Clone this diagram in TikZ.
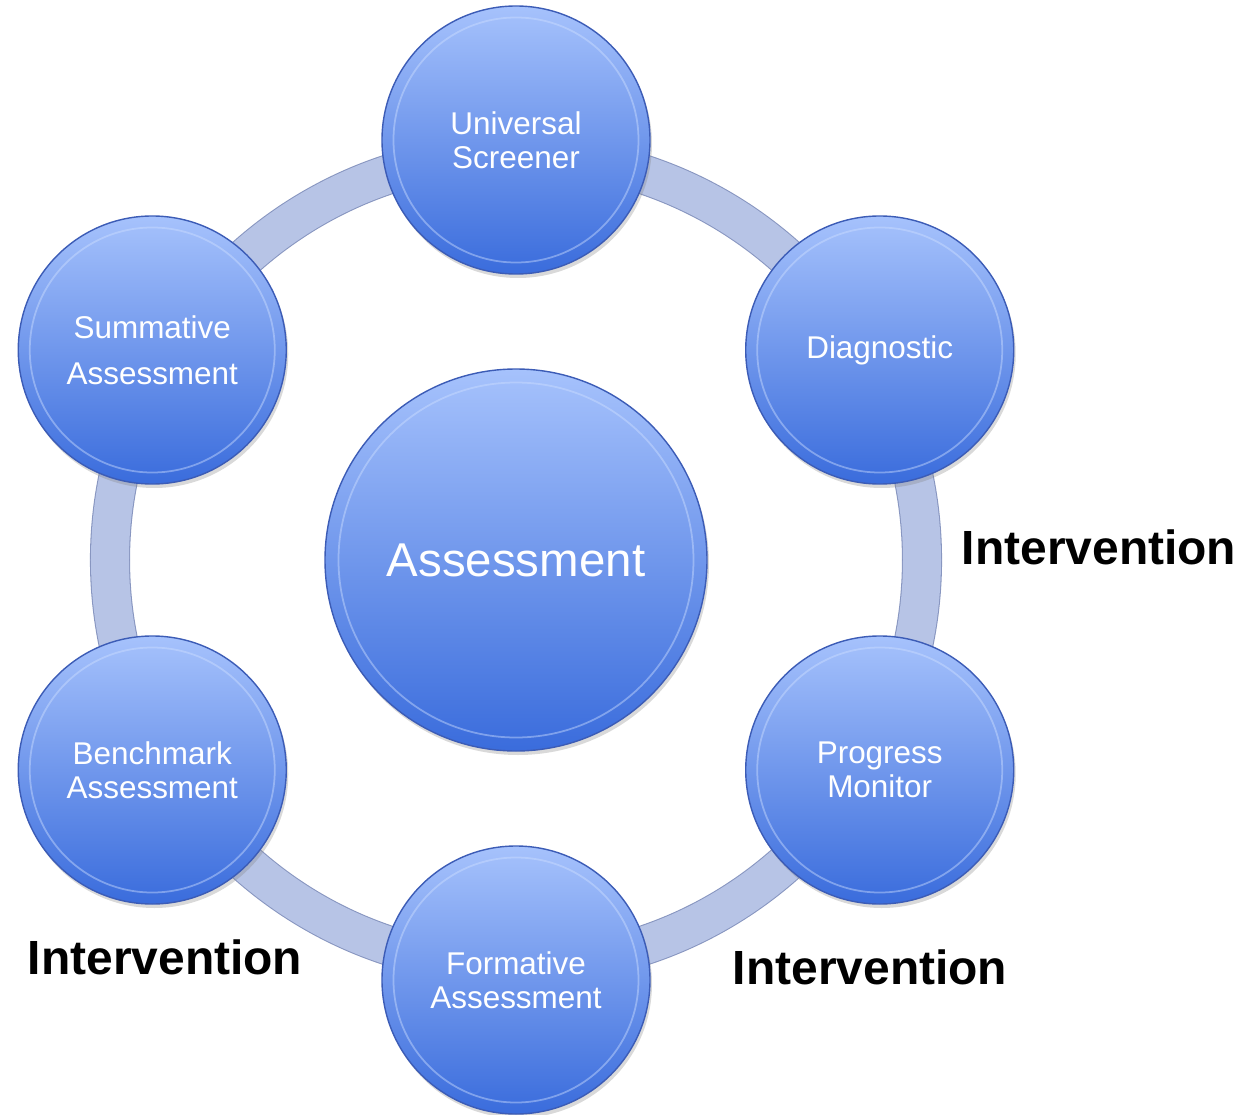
\documentclass[tikz,border=0pt]{standalone}
\usepackage{fontspec}
\setmainfont{Liberation Sans}
\usetikzlibrary{shadows}

\definecolor{ballTop}{RGB}{166,194,252}
\definecolor{ballBot}{RGB}{58,108,220}
\definecolor{ballEdge}{RGB}{60,92,182}
\definecolor{ballRim}{RGB}{205,222,255}
\definecolor{ringFill}{RGB}{183,196,230}
\definecolor{ringEdge}{RGB}{136,150,192}

\begin{document}
\begin{tikzpicture}[ball/.style={circle,draw=ballEdge,line width=.8pt,top color=ballTop,
      bottom color=ballBot,text=white,align=center,inner sep=0pt,
      drop shadow={shadow xshift=.04cm,shadow yshift=-.08cm,opacity=.3}},
    sat/.style={ball,minimum size=5.36cm,font=\fontsize{17.9}{19.3}\selectfont},
    hubball/.style={ball,minimum size=7.64cm,font=\fontsize{27}{30}\selectfont},
    rim/.style={draw=ballRim,line width=1pt,opacity=.45},
    ringband/.style={draw=ringEdge,line width=.6pt,double=ringFill,double distance=.76cm},
    interv/.style={font=\fontsize{27.3}{30}\selectfont\bfseries}]
  \useasboundingbox (-10.32,-11.08) rectangle (14.54,11.2);
  \coordinate (c) at (0,0);
  \draw[ringband] (c) circle (8.12);
  \node[hubball] (hub) at (c) {Assessment};
  \foreach \a/\n/\t in {90/scr/{Universal\\Screener},30/diag/{Diagnostic},
      -30/prog/{Progress\\Monitor},-90/form/{Formative\\Assessment},
      -150/bench/{Benchmark\\Assessment},150/summ/{Summative\\[6.8pt]Assessment}}
    \node[sat] (\n) at (\a:8.4) {\t};
  \foreach \n in {scr,diag,prog,form,bench,summ}
    \draw[rim] (\n.center) circle (2.45);
  \draw[rim] (hub.center) circle (3.55);
  \node[interv] (int1) at (11.66,0.26) {Intervention};
  \node[interv] (int2) at (-7.02,-7.94) {Intervention};
  \node[interv] (int3) at (7.08,-8.14) {Intervention};
\end{tikzpicture}
\end{document}
